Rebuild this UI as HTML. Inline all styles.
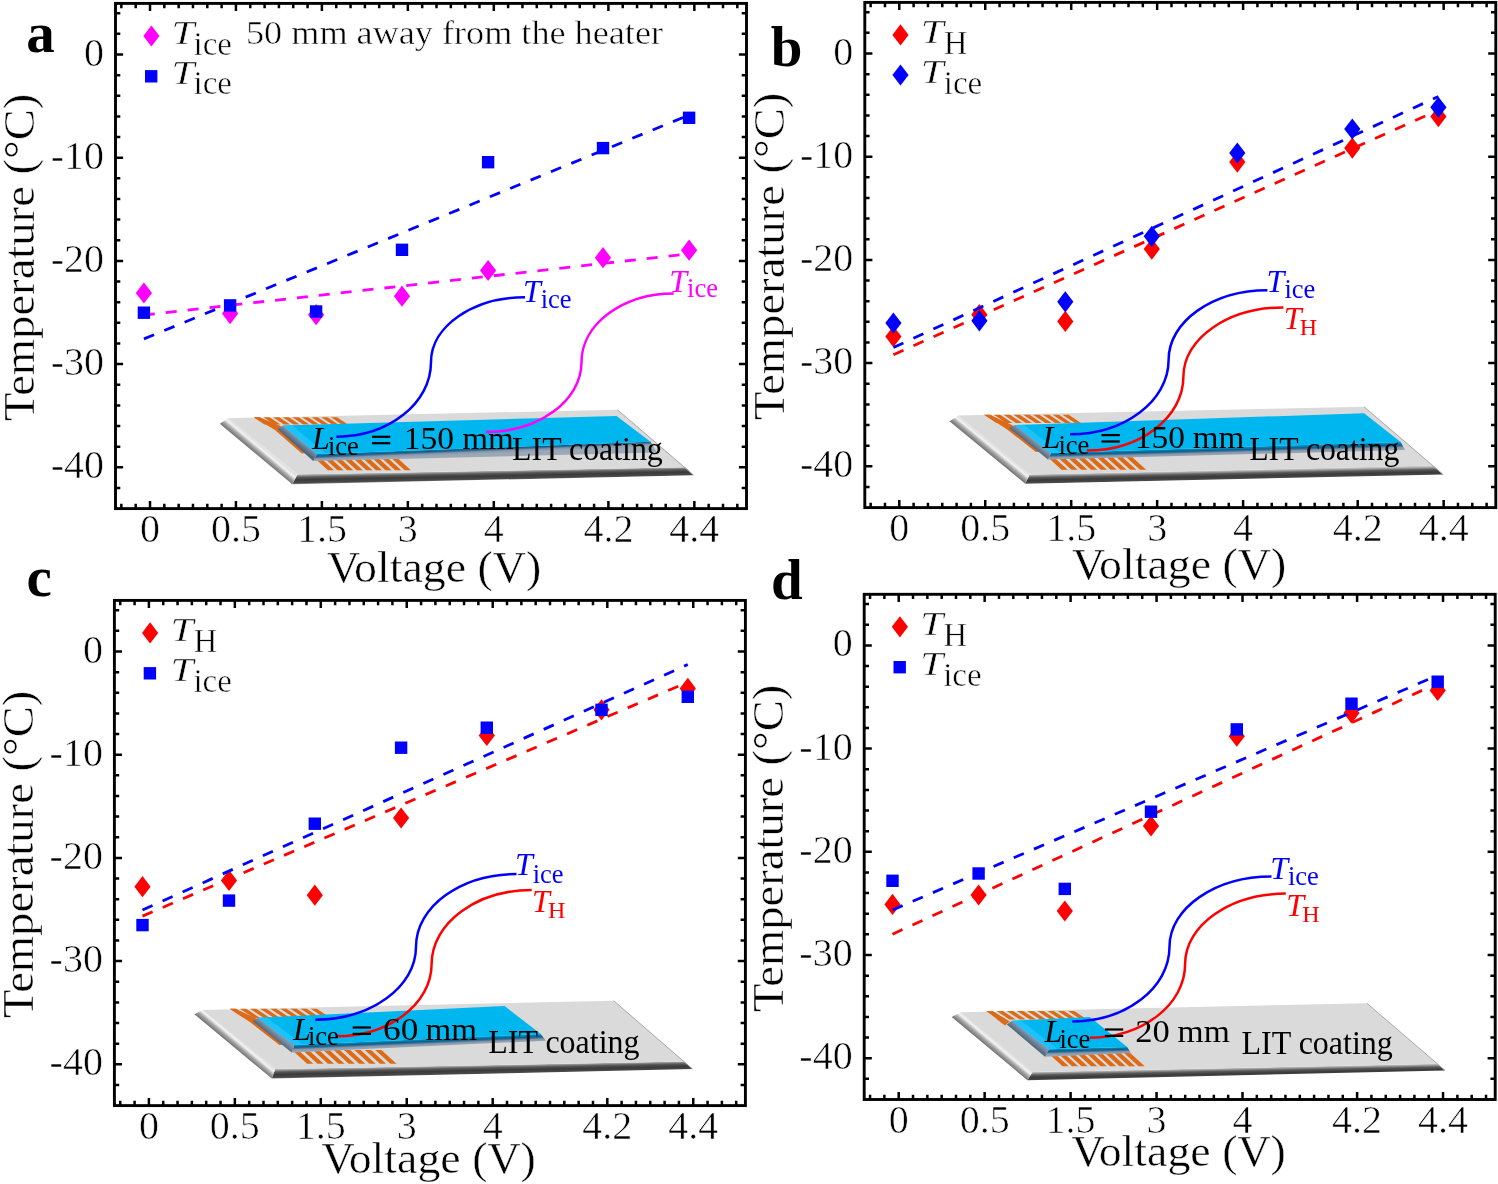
<!DOCTYPE html><html><head><meta charset="utf-8"><title>Figure</title><style>html,body{margin:0;padding:0;background:#fff;width:1498px;height:1184px;overflow:hidden;position:relative}</style></head><body><svg width="1498" height="1184" viewBox="0 0 1498 1184" style="position:absolute;left:0;top:0;will-change:transform"><rect width="1498" height="1184" fill="#fff"/><defs><linearGradient id="gband" x1="0" y1="0" x2="0" y2="1"><stop offset="0" stop-color="#c8c8c8"/><stop offset="0.25" stop-color="#6a6a6a"/><stop offset="0.5" stop-color="#3c3c3c"/><stop offset="0.8" stop-color="#474747"/><stop offset="1" stop-color="#8c8c8c"/></linearGradient><linearGradient id="gcband" x1="0" y1="0" x2="0" y2="1"><stop offset="0" stop-color="#0a6fa0"/><stop offset="0.45" stop-color="#2a7aa2"/><stop offset="0.55" stop-color="#7f93a8"/><stop offset="1" stop-color="#9aa7b5"/></linearGradient></defs><g><defs><linearGradient id="gbeva" gradientUnits="userSpaceOnUse" x1="219.8" y1="423.8" x2="225.6" y2="416.9"><stop offset="0" stop-color="#6e6e6e"/><stop offset="0.45" stop-color="#a8a8a8"/><stop offset="0.8" stop-color="#f4f4f4"/><stop offset="1" stop-color="#e2e2e2"/></linearGradient></defs><defs><linearGradient id="gba" gradientUnits="userSpaceOnUse" x1="297.5" y1="474.3" x2="297.7" y2="484.3"><stop offset="0" stop-color="#c4c4c4"/><stop offset="0.3" stop-color="#5a5a5a"/><stop offset="0.55" stop-color="#3a3a3a"/><stop offset="0.85" stop-color="#4a4a4a"/><stop offset="1" stop-color="#909090"/></linearGradient></defs><polygon points="297.5,474.3 685.2,467.3 693.6,475.2 292.3,484.3" fill="url(#gba)"/><polygon points="219.8,423.8 228.2,418.2 297.5,474.3 292.3,484.3" fill="url(#gbeva)"/><polygon points="228.2,418.2 617.5,409.8 685.2,467.3 297.5,474.3" fill="#dadada"/><line x1="617.5" y1="409.8" x2="693.6" y2="475.2" stroke="#a9a9a9" stroke-width="1"/><polygon points="253.8,417.3 260.0,417.3 270.8,424.5 264.6,424.5" fill="#dc6a16"/><polygon points="263.4,417.3 269.6,417.3 280.4,424.5 274.2,424.5" fill="#dc6a16"/><polygon points="273.1,417.3 279.3,417.3 290.1,424.5 283.9,424.5" fill="#dc6a16"/><polygon points="282.7,417.3 288.9,417.3 299.7,424.5 293.5,424.5" fill="#dc6a16"/><polygon points="292.4,417.3 298.6,417.3 309.4,424.5 303.2,424.5" fill="#dc6a16"/><polygon points="302.0,417.3 308.2,417.3 319.0,424.5 312.8,424.5" fill="#dc6a16"/><polygon points="311.6,417.3 317.8,417.3 328.6,424.5 322.4,424.5" fill="#dc6a16"/><polygon points="321.3,417.3 327.5,417.3 338.3,424.5 332.1,424.5" fill="#dc6a16"/><polygon points="330.9,417.3 337.1,417.3 347.9,424.5 341.7,424.5" fill="#dc6a16"/><polygon points="314.5,458.0 320.7,458.0 334.1,470.2 327.9,470.2" fill="#dc6a16"/><polygon points="324.1,458.0 330.3,458.0 343.7,470.2 337.5,470.2" fill="#dc6a16"/><polygon points="333.7,458.0 339.9,458.0 353.3,470.2 347.1,470.2" fill="#dc6a16"/><polygon points="343.3,458.0 349.5,458.0 362.9,470.2 356.7,470.2" fill="#dc6a16"/><polygon points="352.9,458.0 359.1,458.0 372.5,470.2 366.3,470.2" fill="#dc6a16"/><polygon points="362.5,458.0 368.7,458.0 382.1,470.2 375.9,470.2" fill="#dc6a16"/><polygon points="372.1,458.0 378.3,458.0 391.7,470.2 385.5,470.2" fill="#dc6a16"/><polygon points="381.7,458.0 387.9,458.0 401.3,470.2 395.1,470.2" fill="#dc6a16"/><polygon points="391.3,458.0 397.5,458.0 410.9,470.2 404.7,470.2" fill="#dc6a16"/><polygon points="253.8,417.3 259.4,417.3 280.5,426.0 305.3,453.1 301.8,453.4 275.0,430.0" fill="#dc6a16"/><defs><linearGradient id="gcba" gradientUnits="userSpaceOnUse" x1="316.8" y1="454.1" x2="317.1" y2="461.1"><stop offset="0" stop-color="#0090c8"/><stop offset="0.3" stop-color="#0a5f8c"/><stop offset="0.5" stop-color="#4f7593"/><stop offset="0.65" stop-color="#8797ab"/><stop offset="1" stop-color="#9ba8b6"/></linearGradient></defs><polygon points="316.8,454.1 650.5,441.7 657.0,452.5 313.2,461.1" fill="url(#gcba)"/><defs><linearGradient id="gcla" gradientUnits="userSpaceOnUse" x1="277.5" y1="429.0" x2="281.3" y2="424.4"><stop offset="0" stop-color="#50657a"/><stop offset="1" stop-color="#8195aa"/></linearGradient></defs><polygon points="277.5,429.0 283.1,425.4 316.8,454.1 313.2,461.1" fill="url(#gcla)"/><polygon points="283.1,425.4 616.5,415.9 650.5,441.7 316.8,454.1" fill="#00b6ef"/><polygon points="283.1,425.4 292.1,425.1 325.8,453.8 316.8,454.1" fill="#22c6ff" opacity="0.8"/></g><g><defs><linearGradient id="gbevb" gradientUnits="userSpaceOnUse" x1="949.5" y1="421.3" x2="955.2" y2="414.4"><stop offset="0" stop-color="#6e6e6e"/><stop offset="0.45" stop-color="#a8a8a8"/><stop offset="0.8" stop-color="#f4f4f4"/><stop offset="1" stop-color="#e2e2e2"/></linearGradient></defs><defs><linearGradient id="gbb" gradientUnits="userSpaceOnUse" x1="1029.6" y1="474.6" x2="1029.8" y2="484.6"><stop offset="0" stop-color="#c4c4c4"/><stop offset="0.3" stop-color="#5a5a5a"/><stop offset="0.55" stop-color="#3a3a3a"/><stop offset="0.85" stop-color="#4a4a4a"/><stop offset="1" stop-color="#909090"/></linearGradient></defs><polygon points="1029.6,474.6 1433.2,465.6 1443.2,474.6 1025.2,483.7" fill="url(#gbb)"/><polygon points="949.5,421.3 958.4,415.4 1029.6,474.6 1025.2,483.7" fill="url(#gbevb)"/><polygon points="958.4,415.4 1364.1,406.8 1433.2,465.6 1029.6,474.6" fill="#dadada"/><line x1="1364.1" y1="406.8" x2="1443.2" y2="474.6" stroke="#a9a9a9" stroke-width="1"/><polygon points="984.1,414.8 990.3,414.8 1002.6,423.0 996.4,423.0" fill="#dc6a16"/><polygon points="993.9,414.8 1000.1,414.8 1012.4,423.0 1006.2,423.0" fill="#dc6a16"/><polygon points="1003.7,414.8 1009.9,414.8 1022.2,423.0 1016.0,423.0" fill="#dc6a16"/><polygon points="1013.5,414.8 1019.7,414.8 1032.0,423.0 1025.8,423.0" fill="#dc6a16"/><polygon points="1023.3,414.8 1029.5,414.8 1041.8,423.0 1035.6,423.0" fill="#dc6a16"/><polygon points="1033.1,414.8 1039.3,414.8 1051.6,423.0 1045.4,423.0" fill="#dc6a16"/><polygon points="1042.9,414.8 1049.1,414.8 1061.4,423.0 1055.2,423.0" fill="#dc6a16"/><polygon points="1052.7,414.8 1058.9,414.8 1071.2,423.0 1065.0,423.0" fill="#dc6a16"/><polygon points="1062.5,414.8 1068.7,414.8 1081.0,423.0 1074.8,423.0" fill="#dc6a16"/><polygon points="1047.5,457.0 1053.7,457.0 1067.8,469.8 1061.6,469.8" fill="#dc6a16"/><polygon points="1057.3,457.0 1063.5,457.0 1077.6,469.8 1071.4,469.8" fill="#dc6a16"/><polygon points="1067.1,457.0 1073.3,457.0 1087.4,469.8 1081.2,469.8" fill="#dc6a16"/><polygon points="1076.9,457.0 1083.1,457.0 1097.2,469.8 1091.0,469.8" fill="#dc6a16"/><polygon points="1086.7,457.0 1092.9,457.0 1107.0,469.8 1100.8,469.8" fill="#dc6a16"/><polygon points="1096.5,457.0 1102.7,457.0 1116.8,469.8 1110.6,469.8" fill="#dc6a16"/><polygon points="1106.3,457.0 1112.5,457.0 1126.6,469.8 1120.4,469.8" fill="#dc6a16"/><polygon points="1116.1,457.0 1122.3,457.0 1136.4,469.8 1130.2,469.8" fill="#dc6a16"/><polygon points="1125.9,457.0 1132.1,457.0 1146.2,469.8 1140.0,469.8" fill="#dc6a16"/><polygon points="984.1,414.8 989.7,414.8 1012.0,424.9 1039.2,451.6 1035.8,451.9 1006.5,428.9" fill="#dc6a16"/><defs><linearGradient id="gcbb" gradientUnits="userSpaceOnUse" x1="1050.9" y1="452.9" x2="1051.1" y2="459.9"><stop offset="0" stop-color="#0090c8"/><stop offset="0.3" stop-color="#0a5f8c"/><stop offset="0.5" stop-color="#4f7593"/><stop offset="0.65" stop-color="#8797ab"/><stop offset="1" stop-color="#9ba8b6"/></linearGradient></defs><polygon points="1050.9,452.9 1400.6,441.9 1405.1,450.1 1048.0,459.5" fill="url(#gcbb)"/><defs><linearGradient id="gclb" gradientUnits="userSpaceOnUse" x1="1009.0" y1="427.9" x2="1012.8" y2="423.3"><stop offset="0" stop-color="#50657a"/><stop offset="1" stop-color="#8195aa"/></linearGradient></defs><polygon points="1009.0,427.9 1014.9,425.0 1050.9,452.9 1048.0,459.5" fill="url(#gclb)"/><polygon points="1014.9,425.0 1364.1,413.2 1400.6,441.9 1050.9,452.9" fill="#00b6ef"/><polygon points="1014.9,425.0 1023.9,424.7 1059.9,452.6 1050.9,452.9" fill="#22c6ff" opacity="0.8"/></g><g><defs><linearGradient id="gbevc" gradientUnits="userSpaceOnUse" x1="194.5" y1="1014.3" x2="200.3" y2="1007.4"><stop offset="0" stop-color="#6e6e6e"/><stop offset="0.45" stop-color="#a8a8a8"/><stop offset="0.8" stop-color="#f4f4f4"/><stop offset="1" stop-color="#e2e2e2"/></linearGradient></defs><defs><linearGradient id="gbc" gradientUnits="userSpaceOnUse" x1="275.2" y1="1069.0" x2="275.4" y2="1079.0"><stop offset="0" stop-color="#c4c4c4"/><stop offset="0.3" stop-color="#5a5a5a"/><stop offset="0.55" stop-color="#3a3a3a"/><stop offset="0.85" stop-color="#4a4a4a"/><stop offset="1" stop-color="#909090"/></linearGradient></defs><polygon points="275.2,1069.0 684.2,1061.4 692.6,1069.1 271.8,1078.5" fill="url(#gbc)"/><polygon points="194.5,1014.3 202.4,1010.0 275.2,1069.0 271.8,1078.5" fill="url(#gbevc)"/><polygon points="202.4,1010.0 613.6,1000.7 684.2,1061.4 275.2,1069.0" fill="#dadada"/><line x1="613.6" y1="1000.7" x2="692.6" y2="1069.1" stroke="#a9a9a9" stroke-width="1"/><polygon points="229.8,1008.7 236.0,1008.7 249.9,1018.0 243.7,1018.0" fill="#dc6a16"/><polygon points="239.9,1008.7 246.1,1008.7 260.0,1018.0 253.8,1018.0" fill="#dc6a16"/><polygon points="250.0,1008.7 256.2,1008.7 270.1,1018.0 263.9,1018.0" fill="#dc6a16"/><polygon points="260.1,1008.7 266.3,1008.7 280.2,1018.0 274.0,1018.0" fill="#dc6a16"/><polygon points="270.2,1008.7 276.4,1008.7 290.3,1018.0 284.1,1018.0" fill="#dc6a16"/><polygon points="280.3,1008.7 286.5,1008.7 300.4,1018.0 294.2,1018.0" fill="#dc6a16"/><polygon points="290.4,1008.7 296.6,1008.7 310.5,1018.0 304.3,1018.0" fill="#dc6a16"/><polygon points="300.5,1008.7 306.7,1008.7 320.6,1018.0 314.4,1018.0" fill="#dc6a16"/><polygon points="310.6,1008.7 316.8,1008.7 330.7,1018.0 324.5,1018.0" fill="#dc6a16"/><polygon points="292.0,1050.0 298.2,1050.0 313.3,1063.7 307.1,1063.7" fill="#dc6a16"/><polygon points="302.4,1050.0 308.6,1050.0 323.7,1063.7 317.5,1063.7" fill="#dc6a16"/><polygon points="312.8,1050.0 319.0,1050.0 334.1,1063.7 327.9,1063.7" fill="#dc6a16"/><polygon points="323.2,1050.0 329.4,1050.0 344.5,1063.7 338.3,1063.7" fill="#dc6a16"/><polygon points="333.6,1050.0 339.8,1050.0 354.9,1063.7 348.7,1063.7" fill="#dc6a16"/><polygon points="344.0,1050.0 350.2,1050.0 365.3,1063.7 359.1,1063.7" fill="#dc6a16"/><polygon points="354.4,1050.0 360.6,1050.0 375.7,1063.7 369.5,1063.7" fill="#dc6a16"/><polygon points="364.8,1050.0 371.0,1050.0 386.1,1063.7 379.9,1063.7" fill="#dc6a16"/><polygon points="375.2,1050.0 381.4,1050.0 396.5,1063.7 390.3,1063.7" fill="#dc6a16"/><polygon points="229.8,1008.7 235.4,1008.7 255.7,1018.2 282.9,1044.7 279.4,1045.0 250.2,1022.2" fill="#dc6a16"/><defs><linearGradient id="gcbc" gradientUnits="userSpaceOnUse" x1="294.3" y1="1045.1" x2="294.6" y2="1052.1"><stop offset="0" stop-color="#0090c8"/><stop offset="0.3" stop-color="#0a5f8c"/><stop offset="0.5" stop-color="#4f7593"/><stop offset="0.65" stop-color="#8797ab"/><stop offset="1" stop-color="#9ba8b6"/></linearGradient></defs><polygon points="294.3,1045.1 540.7,1033.9 546.0,1040.7 291.7,1052.5" fill="url(#gcbc)"/><defs><linearGradient id="gclc" gradientUnits="userSpaceOnUse" x1="252.7" y1="1021.2" x2="256.5" y2="1016.6"><stop offset="0" stop-color="#50657a"/><stop offset="1" stop-color="#8195aa"/></linearGradient></defs><polygon points="252.7,1021.2 257.9,1017.8 294.3,1045.1 291.7,1052.5" fill="url(#gclc)"/><polygon points="257.9,1017.8 504.5,1006.1 540.7,1033.9 294.3,1045.1" fill="#00b6ef"/><polygon points="257.9,1017.8 266.9,1017.5 303.3,1044.8 294.3,1045.1" fill="#22c6ff" opacity="0.8"/></g><g><defs><linearGradient id="gbevd" gradientUnits="userSpaceOnUse" x1="951.7" y1="1017.0" x2="957.5" y2="1010.1"><stop offset="0" stop-color="#6e6e6e"/><stop offset="0.45" stop-color="#a8a8a8"/><stop offset="0.8" stop-color="#f4f4f4"/><stop offset="1" stop-color="#e2e2e2"/></linearGradient></defs><defs><linearGradient id="gbd" gradientUnits="userSpaceOnUse" x1="1032.5" y1="1072.1" x2="1032.7" y2="1082.1"><stop offset="0" stop-color="#c4c4c4"/><stop offset="0.3" stop-color="#5a5a5a"/><stop offset="0.55" stop-color="#3a3a3a"/><stop offset="0.85" stop-color="#4a4a4a"/><stop offset="1" stop-color="#909090"/></linearGradient></defs><polygon points="1032.5,1072.1 1437.3,1063.8 1445.0,1070.4 1027.4,1080.2" fill="url(#gbd)"/><polygon points="951.7,1017.0 960.6,1012.3 1032.5,1072.1 1027.4,1080.2" fill="url(#gbevd)"/><polygon points="960.6,1012.3 1366.8,1003.2 1437.3,1063.8 1032.5,1072.1" fill="#dadada"/><line x1="1366.8" y1="1003.2" x2="1445.0" y2="1070.4" stroke="#a9a9a9" stroke-width="1"/><polygon points="986.4,1010.9 992.6,1010.9 1005.5,1019.5 999.3,1019.5" fill="#dc6a16"/><polygon points="996.6,1010.9 1002.8,1010.9 1015.7,1019.5 1009.5,1019.5" fill="#dc6a16"/><polygon points="1006.8,1010.9 1013.0,1010.9 1025.9,1019.5 1019.7,1019.5" fill="#dc6a16"/><polygon points="1017.0,1010.9 1023.2,1010.9 1036.1,1019.5 1029.9,1019.5" fill="#dc6a16"/><polygon points="1027.2,1010.9 1033.4,1010.9 1046.3,1019.5 1040.1,1019.5" fill="#dc6a16"/><polygon points="1037.4,1010.9 1043.6,1010.9 1056.5,1019.5 1050.3,1019.5" fill="#dc6a16"/><polygon points="1047.6,1010.9 1053.8,1010.9 1066.7,1019.5 1060.5,1019.5" fill="#dc6a16"/><polygon points="1057.8,1010.9 1064.0,1010.9 1076.9,1019.5 1070.7,1019.5" fill="#dc6a16"/><polygon points="1068.0,1010.9 1074.2,1010.9 1087.1,1019.5 1080.9,1019.5" fill="#dc6a16"/><polygon points="1048.0,1053.0 1054.2,1053.0 1068.7,1066.2 1062.5,1066.2" fill="#dc6a16"/><polygon points="1057.5,1053.0 1063.7,1053.0 1078.2,1066.2 1072.0,1066.2" fill="#dc6a16"/><polygon points="1067.0,1053.0 1073.2,1053.0 1087.7,1066.2 1081.5,1066.2" fill="#dc6a16"/><polygon points="1076.5,1053.0 1082.7,1053.0 1097.2,1066.2 1091.0,1066.2" fill="#dc6a16"/><polygon points="1086.0,1053.0 1092.2,1053.0 1106.7,1066.2 1100.5,1066.2" fill="#dc6a16"/><polygon points="1095.5,1053.0 1101.7,1053.0 1116.2,1066.2 1110.0,1066.2" fill="#dc6a16"/><polygon points="1105.0,1053.0 1111.2,1053.0 1125.7,1066.2 1119.5,1066.2" fill="#dc6a16"/><polygon points="1114.5,1053.0 1120.7,1053.0 1135.2,1066.2 1129.0,1066.2" fill="#dc6a16"/><polygon points="1124.0,1053.0 1130.2,1053.0 1144.7,1066.2 1138.5,1066.2" fill="#dc6a16"/><polygon points="986.4,1010.9 992.0,1010.9 1009.8,1021.4 1004.8,1025.4" fill="#dc6a16"/><defs><linearGradient id="gcbd" gradientUnits="userSpaceOnUse" x1="1048.8" y1="1049.3" x2="1049.0" y2="1056.3"><stop offset="0" stop-color="#0090c8"/><stop offset="0.3" stop-color="#0a5f8c"/><stop offset="0.5" stop-color="#4f7593"/><stop offset="0.65" stop-color="#8797ab"/><stop offset="1" stop-color="#9ba8b6"/></linearGradient></defs><polygon points="1048.8,1049.3 1127.2,1047.1 1130.9,1053.0 1045.0,1056.7" fill="url(#gcbd)"/><defs><linearGradient id="gcld" gradientUnits="userSpaceOnUse" x1="1006.8" y1="1024.4" x2="1010.6" y2="1019.8"><stop offset="0" stop-color="#50657a"/><stop offset="1" stop-color="#8195aa"/></linearGradient></defs><polygon points="1006.8,1024.4 1012.0,1020.7 1048.8,1049.3 1045.0,1056.7" fill="url(#gcld)"/><polygon points="1012.0,1020.7 1089.8,1017.0 1127.2,1047.1 1048.8,1049.3" fill="#00b6ef"/><polygon points="1012.0,1020.7 1021.0,1020.4 1057.8,1049.0 1048.8,1049.3" fill="#22c6ff" opacity="0.8"/></g><rect x="115.50" y="3.40" width="631.00" height="505.20" fill="none" stroke="#000" stroke-width="2.9"/><path d="M121.35 508.60v-4.80M121.35 3.40v4.80M135.68 508.60v-4.80M135.68 3.40v4.80M150.00 508.60v-7.60M150.00 3.40v7.60M164.32 508.60v-4.80M164.32 3.40v4.80M178.65 508.60v-4.80M178.65 3.40v4.80M192.97 508.60v-4.80M192.97 3.40v4.80M207.30 508.60v-4.80M207.30 3.40v4.80M221.62 508.60v-4.80M221.62 3.40v4.80M235.95 508.60v-7.60M235.95 3.40v7.60M250.27 508.60v-4.80M250.27 3.40v4.80M264.60 508.60v-4.80M264.60 3.40v4.80M278.92 508.60v-4.80M278.92 3.40v4.80M293.25 508.60v-4.80M293.25 3.40v4.80M307.57 508.60v-4.80M307.57 3.40v4.80M321.90 508.60v-7.60M321.90 3.40v7.60M336.23 508.60v-4.80M336.23 3.40v4.80M350.55 508.60v-4.80M350.55 3.40v4.80M364.88 508.60v-4.80M364.88 3.40v4.80M379.20 508.60v-4.80M379.20 3.40v4.80M393.52 508.60v-4.80M393.52 3.40v4.80M407.85 508.60v-7.60M407.85 3.40v7.60M422.18 508.60v-4.80M422.18 3.40v4.80M436.50 508.60v-4.80M436.50 3.40v4.80M450.82 508.60v-4.80M450.82 3.40v4.80M465.15 508.60v-4.80M465.15 3.40v4.80M479.47 508.60v-4.80M479.47 3.40v4.80M493.80 508.60v-7.60M493.80 3.40v7.60M508.12 508.60v-4.80M508.12 3.40v4.80M522.45 508.60v-4.80M522.45 3.40v4.80M536.77 508.60v-4.80M536.77 3.40v4.80M551.10 508.60v-4.80M551.10 3.40v4.80M565.42 508.60v-4.80M565.42 3.40v4.80M579.75 508.60v-4.80M579.75 3.40v4.80M594.08 508.60v-4.80M594.08 3.40v4.80M608.40 508.60v-7.60M608.40 3.40v7.60M622.72 508.60v-4.80M622.72 3.40v4.80M637.05 508.60v-4.80M637.05 3.40v4.80M651.38 508.60v-4.80M651.38 3.40v4.80M665.70 508.60v-4.80M665.70 3.40v4.80M680.02 508.60v-4.80M680.02 3.40v4.80M694.35 508.60v-7.60M694.35 3.40v7.60M708.67 508.60v-4.80M708.67 3.40v4.80M723.00 508.60v-4.80M723.00 3.40v4.80M737.32 508.60v-4.80M737.32 3.40v4.80M115.50 13.22h4.80M746.50 13.22h-4.80M115.50 33.86h4.80M746.50 33.86h-4.80M115.50 54.50h7.60M746.50 54.50h-7.60M115.50 75.14h4.80M746.50 75.14h-4.80M115.50 95.78h4.80M746.50 95.78h-4.80M115.50 116.42h4.80M746.50 116.42h-4.80M115.50 137.06h4.80M746.50 137.06h-4.80M115.50 157.70h7.60M746.50 157.70h-7.60M115.50 178.34h4.80M746.50 178.34h-4.80M115.50 198.98h4.80M746.50 198.98h-4.80M115.50 219.62h4.80M746.50 219.62h-4.80M115.50 240.26h4.80M746.50 240.26h-4.80M115.50 260.90h7.60M746.50 260.90h-7.60M115.50 281.54h4.80M746.50 281.54h-4.80M115.50 302.18h4.80M746.50 302.18h-4.80M115.50 322.82h4.80M746.50 322.82h-4.80M115.50 343.46h4.80M746.50 343.46h-4.80M115.50 364.10h7.60M746.50 364.10h-7.60M115.50 384.74h4.80M746.50 384.74h-4.80M115.50 405.38h4.80M746.50 405.38h-4.80M115.50 426.02h4.80M746.50 426.02h-4.80M115.50 446.66h4.80M746.50 446.66h-4.80M115.50 467.30h7.60M746.50 467.30h-7.60M115.50 487.94h4.80M746.50 487.94h-4.80" stroke="#000" stroke-width="2.5" fill="none"/><g font-family='"Liberation Serif", serif' font-size="40" fill="#000" stroke="#fff" stroke-width="0.6"><text x="150.00" y="542.20" text-anchor="middle">0</text><text x="235.95" y="542.20" text-anchor="middle">0.5</text><text x="321.90" y="542.20" text-anchor="middle">1.5</text><text x="407.85" y="542.20" text-anchor="middle">3</text><text x="493.80" y="542.20" text-anchor="middle">4</text><text x="608.40" y="542.20" text-anchor="middle">4.2</text><text x="694.35" y="542.20" text-anchor="middle">4.4</text><text x="104.00" y="65.50" text-anchor="end">0</text><text x="104.00" y="168.70" text-anchor="end">-10</text><text x="104.00" y="271.90" text-anchor="end">-20</text><text x="104.00" y="375.10" text-anchor="end">-30</text><text x="104.00" y="478.30" text-anchor="end">-40</text></g><g font-family='"Liberation Serif", serif' fill="#000" stroke="#fff" stroke-width="0.45"><text x="326.90" y="582.00" font-size="45" textLength="214.3" lengthAdjust="spacingAndGlyphs">Voltage (V)</text><text transform="translate(34.40,421.10) rotate(-90)" x="0" y="0" font-size="45" textLength="327.4" lengthAdjust="spacingAndGlyphs">Temperature (°C)</text></g><rect x="864.80" y="2.40" width="631.00" height="505.20" fill="none" stroke="#000" stroke-width="2.9"/><path d="M870.65 507.60v-4.80M870.65 2.40v4.80M884.97 507.60v-4.80M884.97 2.40v4.80M899.30 507.60v-7.60M899.30 2.40v7.60M913.62 507.60v-4.80M913.62 2.40v4.80M927.95 507.60v-4.80M927.95 2.40v4.80M942.27 507.60v-4.80M942.27 2.40v4.80M956.60 507.60v-4.80M956.60 2.40v4.80M970.92 507.60v-4.80M970.92 2.40v4.80M985.25 507.60v-7.60M985.25 2.40v7.60M999.57 507.60v-4.80M999.57 2.40v4.80M1013.90 507.60v-4.80M1013.90 2.40v4.80M1028.22 507.60v-4.80M1028.22 2.40v4.80M1042.55 507.60v-4.80M1042.55 2.40v4.80M1056.88 507.60v-4.80M1056.88 2.40v4.80M1071.20 507.60v-7.60M1071.20 2.40v7.60M1085.52 507.60v-4.80M1085.52 2.40v4.80M1099.85 507.60v-4.80M1099.85 2.40v4.80M1114.17 507.60v-4.80M1114.17 2.40v4.80M1128.50 507.60v-4.80M1128.50 2.40v4.80M1142.82 507.60v-4.80M1142.82 2.40v4.80M1157.15 507.60v-7.60M1157.15 2.40v7.60M1171.47 507.60v-4.80M1171.47 2.40v4.80M1185.80 507.60v-4.80M1185.80 2.40v4.80M1200.12 507.60v-4.80M1200.12 2.40v4.80M1214.45 507.60v-4.80M1214.45 2.40v4.80M1228.77 507.60v-4.80M1228.77 2.40v4.80M1243.10 507.60v-7.60M1243.10 2.40v7.60M1257.42 507.60v-4.80M1257.42 2.40v4.80M1271.75 507.60v-4.80M1271.75 2.40v4.80M1286.07 507.60v-4.80M1286.07 2.40v4.80M1300.40 507.60v-4.80M1300.40 2.40v4.80M1314.72 507.60v-4.80M1314.72 2.40v4.80M1329.05 507.60v-4.80M1329.05 2.40v4.80M1343.38 507.60v-4.80M1343.38 2.40v4.80M1357.70 507.60v-7.60M1357.70 2.40v7.60M1372.02 507.60v-4.80M1372.02 2.40v4.80M1386.35 507.60v-4.80M1386.35 2.40v4.80M1400.67 507.60v-4.80M1400.67 2.40v4.80M1415.00 507.60v-4.80M1415.00 2.40v4.80M1429.32 507.60v-4.80M1429.32 2.40v4.80M1443.65 507.60v-7.60M1443.65 2.40v7.60M1457.97 507.60v-4.80M1457.97 2.40v4.80M1472.30 507.60v-4.80M1472.30 2.40v4.80M1486.62 507.60v-4.80M1486.62 2.40v4.80M864.80 12.22h4.80M1495.80 12.22h-4.80M864.80 32.86h4.80M1495.80 32.86h-4.80M864.80 53.50h7.60M1495.80 53.50h-7.60M864.80 74.14h4.80M1495.80 74.14h-4.80M864.80 94.78h4.80M1495.80 94.78h-4.80M864.80 115.42h4.80M1495.80 115.42h-4.80M864.80 136.06h4.80M1495.80 136.06h-4.80M864.80 156.70h7.60M1495.80 156.70h-7.60M864.80 177.34h4.80M1495.80 177.34h-4.80M864.80 197.98h4.80M1495.80 197.98h-4.80M864.80 218.62h4.80M1495.80 218.62h-4.80M864.80 239.26h4.80M1495.80 239.26h-4.80M864.80 259.90h7.60M1495.80 259.90h-7.60M864.80 280.54h4.80M1495.80 280.54h-4.80M864.80 301.18h4.80M1495.80 301.18h-4.80M864.80 321.82h4.80M1495.80 321.82h-4.80M864.80 342.46h4.80M1495.80 342.46h-4.80M864.80 363.10h7.60M1495.80 363.10h-7.60M864.80 383.74h4.80M1495.80 383.74h-4.80M864.80 404.38h4.80M1495.80 404.38h-4.80M864.80 425.02h4.80M1495.80 425.02h-4.80M864.80 445.66h4.80M1495.80 445.66h-4.80M864.80 466.30h7.60M1495.80 466.30h-7.60M864.80 486.94h4.80M1495.80 486.94h-4.80" stroke="#000" stroke-width="2.5" fill="none"/><g font-family='"Liberation Serif", serif' font-size="40" fill="#000" stroke="#fff" stroke-width="0.6"><text x="899.30" y="541.20" text-anchor="middle">0</text><text x="985.25" y="541.20" text-anchor="middle">0.5</text><text x="1071.20" y="541.20" text-anchor="middle">1.5</text><text x="1157.15" y="541.20" text-anchor="middle">3</text><text x="1243.10" y="541.20" text-anchor="middle">4</text><text x="1357.70" y="541.20" text-anchor="middle">4.2</text><text x="1443.65" y="541.20" text-anchor="middle">4.4</text><text x="853.30" y="64.50" text-anchor="end">0</text><text x="853.30" y="167.70" text-anchor="end">-10</text><text x="853.30" y="270.90" text-anchor="end">-20</text><text x="853.30" y="374.10" text-anchor="end">-30</text><text x="853.30" y="477.30" text-anchor="end">-40</text></g><g font-family='"Liberation Serif", serif' fill="#000" stroke="#fff" stroke-width="0.45"><text x="1071.90" y="578.50" font-size="45" textLength="214.3" lengthAdjust="spacingAndGlyphs">Voltage (V)</text><text transform="translate(783.70,420.10) rotate(-90)" x="0" y="0" font-size="45" textLength="327.4" lengthAdjust="spacingAndGlyphs">Temperature (°C)</text></g><rect x="114.40" y="600.40" width="631.00" height="505.20" fill="none" stroke="#000" stroke-width="2.9"/><path d="M120.25 1105.60v-4.80M120.25 600.40v4.80M134.58 1105.60v-4.80M134.58 600.40v4.80M148.90 1105.60v-7.60M148.90 600.40v7.60M163.22 1105.60v-4.80M163.22 600.40v4.80M177.55 1105.60v-4.80M177.55 600.40v4.80M191.88 1105.60v-4.80M191.88 600.40v4.80M206.20 1105.60v-4.80M206.20 600.40v4.80M220.53 1105.60v-4.80M220.53 600.40v4.80M234.85 1105.60v-7.60M234.85 600.40v7.60M249.18 1105.60v-4.80M249.18 600.40v4.80M263.50 1105.60v-4.80M263.50 600.40v4.80M277.82 1105.60v-4.80M277.82 600.40v4.80M292.15 1105.60v-4.80M292.15 600.40v4.80M306.48 1105.60v-4.80M306.48 600.40v4.80M320.80 1105.60v-7.60M320.80 600.40v7.60M335.12 1105.60v-4.80M335.12 600.40v4.80M349.45 1105.60v-4.80M349.45 600.40v4.80M363.77 1105.60v-4.80M363.77 600.40v4.80M378.10 1105.60v-4.80M378.10 600.40v4.80M392.42 1105.60v-4.80M392.42 600.40v4.80M406.75 1105.60v-7.60M406.75 600.40v7.60M421.08 1105.60v-4.80M421.08 600.40v4.80M435.40 1105.60v-4.80M435.40 600.40v4.80M449.73 1105.60v-4.80M449.73 600.40v4.80M464.05 1105.60v-4.80M464.05 600.40v4.80M478.38 1105.60v-4.80M478.38 600.40v4.80M492.70 1105.60v-7.60M492.70 600.40v7.60M507.02 1105.60v-4.80M507.02 600.40v4.80M521.35 1105.60v-4.80M521.35 600.40v4.80M535.67 1105.60v-4.80M535.67 600.40v4.80M550.00 1105.60v-4.80M550.00 600.40v4.80M564.32 1105.60v-4.80M564.32 600.40v4.80M578.65 1105.60v-4.80M578.65 600.40v4.80M592.98 1105.60v-4.80M592.98 600.40v4.80M607.30 1105.60v-7.60M607.30 600.40v7.60M621.62 1105.60v-4.80M621.62 600.40v4.80M635.95 1105.60v-4.80M635.95 600.40v4.80M650.27 1105.60v-4.80M650.27 600.40v4.80M664.60 1105.60v-4.80M664.60 600.40v4.80M678.92 1105.60v-4.80M678.92 600.40v4.80M693.25 1105.60v-7.60M693.25 600.40v7.60M707.57 1105.60v-4.80M707.57 600.40v4.80M721.90 1105.60v-4.80M721.90 600.40v4.80M736.22 1105.60v-4.80M736.22 600.40v4.80M114.40 610.22h4.80M745.40 610.22h-4.80M114.40 630.86h4.80M745.40 630.86h-4.80M114.40 651.50h7.60M745.40 651.50h-7.60M114.40 672.14h4.80M745.40 672.14h-4.80M114.40 692.78h4.80M745.40 692.78h-4.80M114.40 713.42h4.80M745.40 713.42h-4.80M114.40 734.06h4.80M745.40 734.06h-4.80M114.40 754.70h7.60M745.40 754.70h-7.60M114.40 775.34h4.80M745.40 775.34h-4.80M114.40 795.98h4.80M745.40 795.98h-4.80M114.40 816.62h4.80M745.40 816.62h-4.80M114.40 837.26h4.80M745.40 837.26h-4.80M114.40 857.90h7.60M745.40 857.90h-7.60M114.40 878.54h4.80M745.40 878.54h-4.80M114.40 899.18h4.80M745.40 899.18h-4.80M114.40 919.82h4.80M745.40 919.82h-4.80M114.40 940.46h4.80M745.40 940.46h-4.80M114.40 961.10h7.60M745.40 961.10h-7.60M114.40 981.74h4.80M745.40 981.74h-4.80M114.40 1002.38h4.80M745.40 1002.38h-4.80M114.40 1023.02h4.80M745.40 1023.02h-4.80M114.40 1043.66h4.80M745.40 1043.66h-4.80M114.40 1064.30h7.60M745.40 1064.30h-7.60M114.40 1084.94h4.80M745.40 1084.94h-4.80" stroke="#000" stroke-width="2.5" fill="none"/><g font-family='"Liberation Serif", serif' font-size="40" fill="#000" stroke="#fff" stroke-width="0.6"><text x="148.90" y="1139.20" text-anchor="middle">0</text><text x="234.85" y="1139.20" text-anchor="middle">0.5</text><text x="320.80" y="1139.20" text-anchor="middle">1.5</text><text x="406.75" y="1139.20" text-anchor="middle">3</text><text x="492.70" y="1139.20" text-anchor="middle">4</text><text x="607.30" y="1139.20" text-anchor="middle">4.2</text><text x="693.25" y="1139.20" text-anchor="middle">4.4</text><text x="102.90" y="662.50" text-anchor="end">0</text><text x="102.90" y="765.70" text-anchor="end">-10</text><text x="102.90" y="868.90" text-anchor="end">-20</text><text x="102.90" y="972.10" text-anchor="end">-30</text><text x="102.90" y="1075.30" text-anchor="end">-40</text></g><g font-family='"Liberation Serif", serif' fill="#000" stroke="#fff" stroke-width="0.45"><text x="321.50" y="1172.50" font-size="45" textLength="214.3" lengthAdjust="spacingAndGlyphs">Voltage (V)</text><text transform="translate(33.30,1018.10) rotate(-90)" x="0" y="0" font-size="45" textLength="327.4" lengthAdjust="spacingAndGlyphs">Temperature (°C)</text></g><rect x="864.20" y="594.30" width="631.00" height="505.20" fill="none" stroke="#000" stroke-width="2.9"/><path d="M870.05 1099.50v-4.80M870.05 594.30v4.80M884.38 1099.50v-4.80M884.38 594.30v4.80M898.70 1099.50v-7.60M898.70 594.30v7.60M913.03 1099.50v-4.80M913.03 594.30v4.80M927.35 1099.50v-4.80M927.35 594.30v4.80M941.68 1099.50v-4.80M941.68 594.30v4.80M956.00 1099.50v-4.80M956.00 594.30v4.80M970.33 1099.50v-4.80M970.33 594.30v4.80M984.65 1099.50v-7.60M984.65 594.30v7.60M998.98 1099.50v-4.80M998.98 594.30v4.80M1013.30 1099.50v-4.80M1013.30 594.30v4.80M1027.62 1099.50v-4.80M1027.62 594.30v4.80M1041.95 1099.50v-4.80M1041.95 594.30v4.80M1056.28 1099.50v-4.80M1056.28 594.30v4.80M1070.60 1099.50v-7.60M1070.60 594.30v7.60M1084.92 1099.50v-4.80M1084.92 594.30v4.80M1099.25 1099.50v-4.80M1099.25 594.30v4.80M1113.58 1099.50v-4.80M1113.58 594.30v4.80M1127.90 1099.50v-4.80M1127.90 594.30v4.80M1142.22 1099.50v-4.80M1142.22 594.30v4.80M1156.55 1099.50v-7.60M1156.55 594.30v7.60M1170.88 1099.50v-4.80M1170.88 594.30v4.80M1185.20 1099.50v-4.80M1185.20 594.30v4.80M1199.53 1099.50v-4.80M1199.53 594.30v4.80M1213.85 1099.50v-4.80M1213.85 594.30v4.80M1228.17 1099.50v-4.80M1228.17 594.30v4.80M1242.50 1099.50v-7.60M1242.50 594.30v7.60M1256.83 1099.50v-4.80M1256.83 594.30v4.80M1271.15 1099.50v-4.80M1271.15 594.30v4.80M1285.47 1099.50v-4.80M1285.47 594.30v4.80M1299.80 1099.50v-4.80M1299.80 594.30v4.80M1314.12 1099.50v-4.80M1314.12 594.30v4.80M1328.45 1099.50v-4.80M1328.45 594.30v4.80M1342.78 1099.50v-4.80M1342.78 594.30v4.80M1357.10 1099.50v-7.60M1357.10 594.30v7.60M1371.42 1099.50v-4.80M1371.42 594.30v4.80M1385.75 1099.50v-4.80M1385.75 594.30v4.80M1400.08 1099.50v-4.80M1400.08 594.30v4.80M1414.40 1099.50v-4.80M1414.40 594.30v4.80M1428.72 1099.50v-4.80M1428.72 594.30v4.80M1443.05 1099.50v-7.60M1443.05 594.30v7.60M1457.38 1099.50v-4.80M1457.38 594.30v4.80M1471.70 1099.50v-4.80M1471.70 594.30v4.80M1486.03 1099.50v-4.80M1486.03 594.30v4.80M864.20 604.12h4.80M1495.20 604.12h-4.80M864.20 624.76h4.80M1495.20 624.76h-4.80M864.20 645.40h7.60M1495.20 645.40h-7.60M864.20 666.04h4.80M1495.20 666.04h-4.80M864.20 686.68h4.80M1495.20 686.68h-4.80M864.20 707.32h4.80M1495.20 707.32h-4.80M864.20 727.96h4.80M1495.20 727.96h-4.80M864.20 748.60h7.60M1495.20 748.60h-7.60M864.20 769.24h4.80M1495.20 769.24h-4.80M864.20 789.88h4.80M1495.20 789.88h-4.80M864.20 810.52h4.80M1495.20 810.52h-4.80M864.20 831.16h4.80M1495.20 831.16h-4.80M864.20 851.80h7.60M1495.20 851.80h-7.60M864.20 872.44h4.80M1495.20 872.44h-4.80M864.20 893.08h4.80M1495.20 893.08h-4.80M864.20 913.72h4.80M1495.20 913.72h-4.80M864.20 934.36h4.80M1495.20 934.36h-4.80M864.20 955.00h7.60M1495.20 955.00h-7.60M864.20 975.64h4.80M1495.20 975.64h-4.80M864.20 996.28h4.80M1495.20 996.28h-4.80M864.20 1016.92h4.80M1495.20 1016.92h-4.80M864.20 1037.56h4.80M1495.20 1037.56h-4.80M864.20 1058.20h7.60M1495.20 1058.20h-7.60M864.20 1078.84h4.80M1495.20 1078.84h-4.80" stroke="#000" stroke-width="2.5" fill="none"/><g font-family='"Liberation Serif", serif' font-size="40" fill="#000" stroke="#fff" stroke-width="0.6"><text x="898.70" y="1133.10" text-anchor="middle">0</text><text x="984.65" y="1133.10" text-anchor="middle">0.5</text><text x="1070.60" y="1133.10" text-anchor="middle">1.5</text><text x="1156.55" y="1133.10" text-anchor="middle">3</text><text x="1242.50" y="1133.10" text-anchor="middle">4</text><text x="1357.10" y="1133.10" text-anchor="middle">4.2</text><text x="1443.05" y="1133.10" text-anchor="middle">4.4</text><text x="852.70" y="656.40" text-anchor="end">0</text><text x="852.70" y="759.60" text-anchor="end">-10</text><text x="852.70" y="862.80" text-anchor="end">-20</text><text x="852.70" y="966.00" text-anchor="end">-30</text><text x="852.70" y="1069.20" text-anchor="end">-40</text></g><g font-family='"Liberation Serif", serif' fill="#000" stroke="#fff" stroke-width="0.45"><text x="1071.50" y="1165.60" font-size="45" textLength="214.3" lengthAdjust="spacingAndGlyphs">Voltage (V)</text><text transform="translate(783.10,1012.00) rotate(-90)" x="0" y="0" font-size="45" textLength="327.4" lengthAdjust="spacingAndGlyphs">Temperature (°C)</text></g><g font-family='"Liberation Serif", serif' font-weight="bold" font-size="57" fill="#000"><text x="26.3" y="52.2">a</text><text x="770.7" y="65.5">b</text><text x="26.4" y="596">c</text><text x="770.9" y="599">d</text></g><path d="M151.40 25.40L159.50 36.00L151.40 46.60L143.30 36.00Z" fill="#ff00ff"/><rect x="145.00" y="70.10" width="12.40" height="12.40" fill="#0000ff"/><g font-family='"Liberation Serif", serif' stroke="#fff" stroke-width="0.5"><text x="171.50" y="44.00" font-style="italic" font-size="34" fill="#000" textLength="23" lengthAdjust="spacingAndGlyphs">T</text><text x="193.50" y="54.50" font-size="33" fill="#000">ice</text></g><text x="246" y="44" font-family='"Liberation Serif", serif' font-size="34" stroke="#fff" stroke-width="0.5" textLength="417" lengthAdjust="spacingAndGlyphs">50 mm away from the heater</text><g font-family='"Liberation Serif", serif' stroke="#fff" stroke-width="0.5"><text x="171.50" y="84.10" font-style="italic" font-size="34" fill="#000" textLength="23" lengthAdjust="spacingAndGlyphs">T</text><text x="193.50" y="94.10" font-size="33" fill="#000">ice</text></g><path d="M900.50 24.30L908.60 34.90L900.50 45.50L892.40 34.90Z" fill="#ff0000"/><path d="M900.50 64.40L908.60 75.00L900.50 85.60L892.40 75.00Z" fill="#0000ff"/><g font-family='"Liberation Serif", serif' stroke="#fff" stroke-width="0.5"><text x="920.80" y="42.90" font-style="italic" font-size="34" fill="#000" textLength="23" lengthAdjust="spacingAndGlyphs">T</text><text x="943.80" y="54.30" font-size="33" fill="#000">H</text></g><g font-family='"Liberation Serif", serif' stroke="#fff" stroke-width="0.5"><text x="920.80" y="83.00" font-style="italic" font-size="34" fill="#000" textLength="23" lengthAdjust="spacingAndGlyphs">T</text><text x="943.80" y="94.00" font-size="33" fill="#000">ice</text></g><path d="M150.10 622.30L158.20 632.90L150.10 643.50L142.00 632.90Z" fill="#ff0000"/><rect x="143.70" y="667.10" width="12.40" height="12.40" fill="#0000ff"/><g font-family='"Liberation Serif", serif' stroke="#fff" stroke-width="0.5"><text x="170.40" y="640.90" font-style="italic" font-size="34" fill="#000" textLength="23" lengthAdjust="spacingAndGlyphs">T</text><text x="193.40" y="652.30" font-size="33" fill="#000">H</text></g><g font-family='"Liberation Serif", serif' stroke="#fff" stroke-width="0.5"><text x="170.40" y="681.00" font-style="italic" font-size="34" fill="#000" textLength="23" lengthAdjust="spacingAndGlyphs">T</text><text x="193.40" y="692.00" font-size="33" fill="#000">ice</text></g><path d="M899.90 616.20L908.00 626.80L899.90 637.40L891.80 626.80Z" fill="#ff0000"/><rect x="893.50" y="661.00" width="12.40" height="12.40" fill="#0000ff"/><g font-family='"Liberation Serif", serif' stroke="#fff" stroke-width="0.5"><text x="920.20" y="634.80" font-style="italic" font-size="34" fill="#000" textLength="23" lengthAdjust="spacingAndGlyphs">T</text><text x="943.20" y="646.20" font-size="33" fill="#000">H</text></g><g font-family='"Liberation Serif", serif' stroke="#fff" stroke-width="0.5"><text x="920.20" y="674.90" font-style="italic" font-size="34" fill="#000" textLength="23" lengthAdjust="spacingAndGlyphs">T</text><text x="943.20" y="685.90" font-size="33" fill="#000">ice</text></g><path d="M143.90 282.40L152.00 293.00L143.90 303.60L135.80 293.00Z" fill="#ff00ff"/><path d="M230.10 303.00L238.20 313.60L230.10 324.20L222.00 313.60Z" fill="#ff00ff"/><path d="M316.10 304.10L324.20 314.70L316.10 325.30L308.00 314.70Z" fill="#ff00ff"/><path d="M402.00 285.60L410.10 296.20L402.00 306.80L393.90 296.20Z" fill="#ff00ff"/><path d="M488.10 259.90L496.20 270.50L488.10 281.10L480.00 270.50Z" fill="#ff00ff"/><path d="M603.00 247.10L611.10 257.70L603.00 268.30L594.90 257.70Z" fill="#ff00ff"/><path d="M689.10 239.60L697.20 250.20L689.10 260.80L681.00 250.20Z" fill="#ff00ff"/><line x1="143.90" y1="315.00" x2="689.10" y2="253.80" stroke="#ff00ff" stroke-width="2.8" stroke-dasharray="11 11"/><rect x="137.70" y="306.50" width="12.40" height="12.40" fill="#0000ff"/><rect x="223.90" y="299.20" width="12.40" height="12.40" fill="#0000ff"/><rect x="309.90" y="305.30" width="12.40" height="12.40" fill="#0000ff"/><rect x="395.80" y="243.60" width="12.40" height="12.40" fill="#0000ff"/><rect x="481.90" y="156.00" width="12.40" height="12.40" fill="#0000ff"/><rect x="596.80" y="141.90" width="12.40" height="12.40" fill="#0000ff"/><rect x="682.90" y="111.60" width="12.40" height="12.40" fill="#0000ff"/><line x1="143.90" y1="338.90" x2="689.10" y2="115.00" stroke="#0000ff" stroke-width="2.8" stroke-dasharray="11 11"/><path d="M893.40 326.00L901.50 336.60L893.40 347.20L885.30 336.60Z" fill="#ff0000"/><path d="M979.40 304.10L987.50 314.70L979.40 325.30L971.30 314.70Z" fill="#ff0000"/><path d="M1065.30 310.80L1073.40 321.40L1065.30 332.00L1057.20 321.40Z" fill="#ff0000"/><path d="M1151.80 238.50L1159.90 249.10L1151.80 259.70L1143.70 249.10Z" fill="#ff0000"/><path d="M1237.30 151.50L1245.40 162.10L1237.30 172.70L1229.20 162.10Z" fill="#ff0000"/><path d="M1352.30 137.50L1360.40 148.10L1352.30 158.70L1344.20 148.10Z" fill="#ff0000"/><path d="M1438.40 106.00L1446.50 116.60L1438.40 127.20L1430.30 116.60Z" fill="#ff0000"/><line x1="893.40" y1="354.80" x2="1438.40" y2="110.00" stroke="#ff0000" stroke-width="2.8" stroke-dasharray="11 11"/><path d="M893.40 312.40L901.50 323.00L893.40 333.60L885.30 323.00Z" fill="#0000ff"/><path d="M979.40 310.20L987.50 320.80L979.40 331.40L971.30 320.80Z" fill="#0000ff"/><path d="M1065.30 291.20L1073.40 301.80L1065.30 312.40L1057.20 301.80Z" fill="#0000ff"/><path d="M1151.80 225.70L1159.90 236.30L1151.80 246.90L1143.70 236.30Z" fill="#0000ff"/><path d="M1237.30 142.40L1245.40 153.00L1237.30 163.60L1229.20 153.00Z" fill="#0000ff"/><path d="M1352.30 118.40L1360.40 129.00L1352.30 139.60L1344.20 129.00Z" fill="#0000ff"/><path d="M1438.40 96.70L1446.50 107.30L1438.40 117.90L1430.30 107.30Z" fill="#0000ff"/><line x1="893.40" y1="347.50" x2="1438.40" y2="96.50" stroke="#0000ff" stroke-width="2.8" stroke-dasharray="11 11"/><path d="M142.50 876.10L150.60 886.70L142.50 897.30L134.40 886.70Z" fill="#ff0000"/><path d="M229.00 869.90L237.10 880.50L229.00 891.10L220.90 880.50Z" fill="#ff0000"/><path d="M314.80 884.60L322.90 895.20L314.80 905.80L306.70 895.20Z" fill="#ff0000"/><path d="M401.10 807.40L409.20 818.00L401.10 828.60L393.00 818.00Z" fill="#ff0000"/><path d="M486.80 724.90L494.90 735.50L486.80 746.10L478.70 735.50Z" fill="#ff0000"/><path d="M601.50 699.20L609.60 709.80L601.50 720.40L593.40 709.80Z" fill="#ff0000"/><path d="M687.80 677.80L695.90 688.40L687.80 699.00L679.70 688.40Z" fill="#ff0000"/><line x1="142.50" y1="916.10" x2="687.80" y2="682.10" stroke="#ff0000" stroke-width="2.8" stroke-dasharray="11 11"/><rect x="136.30" y="918.90" width="12.40" height="12.40" fill="#0000ff"/><rect x="222.80" y="894.40" width="12.40" height="12.40" fill="#0000ff"/><rect x="308.60" y="817.50" width="12.40" height="12.40" fill="#0000ff"/><rect x="394.90" y="741.50" width="12.40" height="12.40" fill="#0000ff"/><rect x="480.60" y="721.50" width="12.40" height="12.40" fill="#0000ff"/><rect x="595.30" y="703.60" width="12.40" height="12.40" fill="#0000ff"/><rect x="681.60" y="690.60" width="12.40" height="12.40" fill="#0000ff"/><line x1="142.50" y1="910.00" x2="687.80" y2="664.50" stroke="#0000ff" stroke-width="2.8" stroke-dasharray="11 11"/><path d="M892.50 893.80L900.60 904.40L892.50 915.00L884.40 904.40Z" fill="#ff0000"/><path d="M978.60 884.40L986.70 895.00L978.60 905.60L970.50 895.00Z" fill="#ff0000"/><path d="M1064.80 900.40L1072.90 911.00L1064.80 921.60L1056.70 911.00Z" fill="#ff0000"/><path d="M1151.00 815.40L1159.10 826.00L1151.00 836.60L1142.90 826.00Z" fill="#ff0000"/><path d="M1236.80 725.60L1244.90 736.20L1236.80 746.80L1228.70 736.20Z" fill="#ff0000"/><path d="M1351.50 702.30L1359.60 712.90L1351.50 723.50L1343.40 712.90Z" fill="#ff0000"/><path d="M1437.70 679.80L1445.80 690.40L1437.70 701.00L1429.60 690.40Z" fill="#ff0000"/><line x1="892.50" y1="934.20" x2="1437.70" y2="683.20" stroke="#ff0000" stroke-width="2.8" stroke-dasharray="11 11"/><rect x="886.30" y="874.60" width="12.40" height="12.40" fill="#0000ff"/><rect x="972.40" y="867.30" width="12.40" height="12.40" fill="#0000ff"/><rect x="1058.60" y="882.70" width="12.40" height="12.40" fill="#0000ff"/><rect x="1144.80" y="805.50" width="12.40" height="12.40" fill="#0000ff"/><rect x="1230.60" y="723.20" width="12.40" height="12.40" fill="#0000ff"/><rect x="1345.30" y="697.50" width="12.40" height="12.40" fill="#0000ff"/><rect x="1431.50" y="675.50" width="12.40" height="12.40" fill="#0000ff"/><line x1="892.50" y1="910.00" x2="1437.70" y2="675.30" stroke="#0000ff" stroke-width="2.8" stroke-dasharray="11 11"/><path d="M336.4 436.7C388.6 436.7 431.0 403.3 431.0 362.0C431.0 326.2 473.1 297.2 525.0 297.2" fill="none" stroke="#0000ff" stroke-width="2.5"/><path d="M486.0 432.0C538.7 432.0 581.5 400.7 581.5 362.0C581.5 324.1 622.8 293.4 673.7 293.4" fill="none" stroke="#ff00ff" stroke-width="2.5"/><path d="M1070.1 434.2C1124.5 434.2 1168.6 400.9 1168.6 359.9C1168.6 321.4 1212.8 290.2 1267.4 290.2" fill="none" stroke="#0000ff" stroke-width="2.5"/><path d="M1086.8 450.6C1140.2 450.6 1183.4 417.5 1183.4 376.6C1183.4 338.4 1228.2 307.4 1283.4 307.4" fill="none" stroke="#ff0000" stroke-width="2.5"/><path d="M315.4 1019.7C371.0 1019.7 416.0 987.1 416.0 946.8C416.0 906.6 461.0 874.0 516.5 874.0" fill="none" stroke="#0000ff" stroke-width="2.5"/><path d="M336.2 1036.3C388.9 1036.3 431.6 1004.0 431.6 964.1C431.6 923.2 476.4 890.0 531.7 890.0" fill="none" stroke="#ff0000" stroke-width="2.5"/><path d="M1072.3 1021.4C1126.0 1021.4 1169.5 988.0 1169.5 946.8C1169.5 908.0 1215.2 876.5 1271.5 876.5" fill="none" stroke="#0000ff" stroke-width="2.5"/><path d="M1089.7 1037.7C1142.4 1037.7 1185.1 1004.7 1185.1 964.1C1185.1 925.2 1230.2 893.6 1285.8 893.6" fill="none" stroke="#ff0000" stroke-width="2.5"/><text x="522.9" y="301.5" font-family='"Liberation Serif", serif' font-style="italic" font-size="32" fill="#0000ff">T</text><text x="540.7" y="307.9" font-family='"Liberation Serif", serif' font-size="26.5" fill="#0000ff">ice</text><text x="669.3" y="291.9" font-family='"Liberation Serif", serif' font-style="italic" font-size="32" fill="#ff00ff">T</text><text x="687.1" y="297.2" font-family='"Liberation Serif", serif' font-size="26.5" fill="#ff00ff">ice</text><text x="1266.6" y="292.0" font-family='"Liberation Serif", serif' font-style="italic" font-size="32" fill="#0000ff">T</text><text x="1284.4" y="298.1" font-family='"Liberation Serif", serif' font-size="26.5" fill="#0000ff">ice</text><text x="1283.7" y="328.7" font-family='"Liberation Serif", serif' font-style="italic" font-size="32" fill="#ff0000">T</text><text x="1299.8" y="334.8" font-family='"Liberation Serif", serif' font-size="24" fill="#ff0000">H</text><text x="514.9" y="875.2" font-family='"Liberation Serif", serif' font-style="italic" font-size="32" fill="#0000ff">T</text><text x="532.7" y="882.6" font-family='"Liberation Serif", serif' font-size="26.5" fill="#0000ff">ice</text><text x="532.0" y="912.0" font-family='"Liberation Serif", serif' font-style="italic" font-size="32" fill="#ff0000">T</text><text x="548.1" y="918.1" font-family='"Liberation Serif", serif' font-size="24" fill="#ff0000">H</text><text x="1270.2" y="878.9" font-family='"Liberation Serif", serif' font-style="italic" font-size="32" fill="#0000ff">T</text><text x="1288.0" y="885.0" font-family='"Liberation Serif", serif' font-size="26.5" fill="#0000ff">ice</text><text x="1286.2" y="916.3" font-family='"Liberation Serif", serif' font-style="italic" font-size="32" fill="#ff0000">T</text><text x="1302.3" y="921.8" font-family='"Liberation Serif", serif' font-size="24" fill="#ff0000">H</text><g font-family='"Liberation Serif", serif' fill="#000"><text x="312.1" y="449.4" font-style="italic" font-size="32">L</text><text x="328.0" y="454.8" font-size="26.5">ice</text><rect x="372.0" y="435.7" width="18.3" height="2.2"/><rect x="372.0" y="442.1" width="18.3" height="2.2"/><text x="403.8" y="449.4" font-size="32.3" textLength="50.2" lengthAdjust="spacingAndGlyphs">150</text><text x="462.3" y="449.4" font-size="32" textLength="51.5" lengthAdjust="spacingAndGlyphs">mm</text><text x="512.1" y="460.3" font-size="32.7" textLength="150.7" lengthAdjust="spacingAndGlyphs">LIT coating</text></g><g font-family='"Liberation Serif", serif' fill="#000"><text x="1042.5" y="447.7" font-style="italic" font-size="32">L</text><text x="1058.4" y="453.6" font-size="26.5">ice</text><rect x="1101.5" y="434.0" width="18.3" height="2.2"/><rect x="1101.5" y="440.4" width="18.3" height="2.2"/><text x="1134.8" y="447.7" font-size="32.3" textLength="50.2" lengthAdjust="spacingAndGlyphs">150</text><text x="1192.7" y="447.7" font-size="32" textLength="51.5" lengthAdjust="spacingAndGlyphs">mm</text><text x="1249.2" y="460.4" font-size="32.7" textLength="150.1" lengthAdjust="spacingAndGlyphs">LIT coating</text></g><g font-family='"Liberation Serif", serif' fill="#000"><text x="292.9" y="1040.0" font-style="italic" font-size="32">L</text><text x="308.0" y="1045.4" font-size="26.5">ice</text><rect x="352.7" y="1026.4" width="18.3" height="2.2"/><rect x="352.7" y="1032.8" width="18.3" height="2.2"/><text x="383.1" y="1040.2" font-size="31.4" textLength="35.4" lengthAdjust="spacingAndGlyphs">60</text><text x="425.4" y="1040.2" font-size="32" textLength="51.5" lengthAdjust="spacingAndGlyphs">mm</text><text x="488.3" y="1053.0" font-size="32.7" textLength="151.2" lengthAdjust="spacingAndGlyphs">LIT coating</text></g><g font-family='"Liberation Serif", serif' fill="#000"><text x="1044.4" y="1041.6" font-style="italic" font-size="32">L</text><text x="1059.5" y="1048.2" font-size="26.5">ice</text><rect x="1104.9" y="1028.4" width="18.3" height="2.2"/><rect x="1104.9" y="1034.8" width="18.3" height="2.2"/><text x="1135.3" y="1041.6" font-size="30.5" textLength="34.6" lengthAdjust="spacingAndGlyphs">20</text><text x="1177.6" y="1041.6" font-size="32" textLength="52.2" lengthAdjust="spacingAndGlyphs">mm</text><text x="1241.5" y="1053.9" font-size="32.7" textLength="151.3" lengthAdjust="spacingAndGlyphs">LIT coating</text></g></svg></body></html>
